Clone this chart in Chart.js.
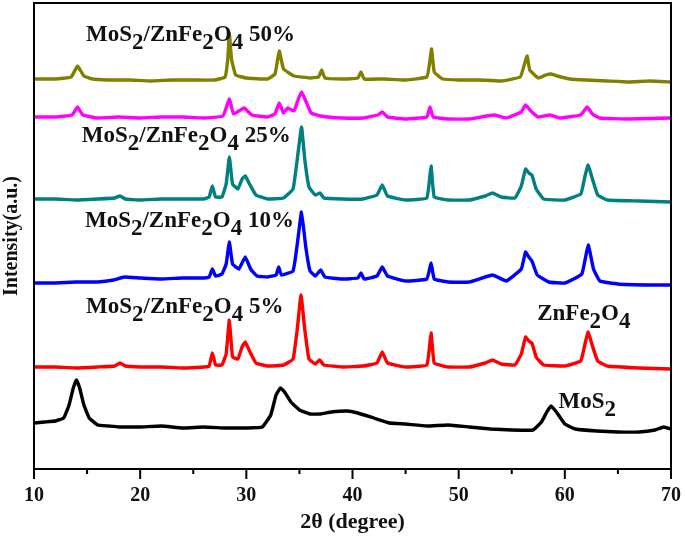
<!DOCTYPE html>
<html>
<head>
<meta charset="utf-8">
<script src="https://cdn.jsdelivr.net/npm/chart.js@4.4.0/dist/chart.umd.min.js"></script>
<style>
  html, body { margin: 0; padding: 0; background: #fff; }
  #wrap { width: 685px; height: 536px; }
</style>
</head>
<body>
<div id="wrap"><canvas id="xrdChart"></canvas></div>
<script>
// XRD patterns, [2theta, intensity (a.u., stacked)]
const mos2 = [
  [10, 46], [11, 47], [12, 48], [12.8, 51], [13.3, 64], [13.7, 81], [14.0, 89], [14.3, 81],
  [14.7, 64], [15.2, 51], [16, 44], [17, 43], [18, 42], [20, 42], [22, 43], [24, 41],
  [26, 42], [28, 41], [30, 41], [31.5, 42], [32.3, 54], [32.8, 74], [33.2, 81], [33.6, 77],
  [34.2, 67], [35, 59], [36, 55], [37, 55], [38, 57], [39.5, 58], [40.5, 56], [42, 51],
  [43.5, 46], [45, 45], [47, 43], [49, 44], [51, 42], [53, 40], [55, 39], [57, 39],
  [57.8, 47], [58.3, 57], [58.7, 63], [59.2, 57], [60, 45], [61, 40], [63, 38], [65, 37],
  [67, 37], [68.5, 39], [69.3, 42], [70, 40]
];
const zfo = [
  [10, 102], [12, 102], [14, 101], [16, 102], [17.6, 103], [18.1, 106], [18.6, 103], [20, 102],
  [22, 102], [24, 101], [26, 102], [26.5, 103], [26.8, 116], [27.1, 104], [27.7, 104], [28.1, 115],
  [28.4, 149], [28.7, 112], [29.2, 110], [29.6, 122], [29.9, 127], [30.3, 118], [30.9, 106], [32, 103],
  [33.5, 104], [34.4, 110], [34.8, 140], [35.15, 174], [35.5, 140], [35.9, 110], [36.5, 105], [36.9, 109],
  [37.3, 104], [39, 102], [41, 103], [42.3, 106], [42.8, 117], [43.3, 106], [45, 102], [47, 104],
  [47.4, 136], [47.7, 106], [49, 102], [51, 102], [52.5, 106], [53.2, 109], [54, 105], [55.3, 104],
  [55.9, 115], [56.3, 132], [56.6, 128], [56.9, 126], [57.3, 112], [58, 104], [60, 103], [61.5, 108],
  [61.9, 125], [62.2, 137], [62.6, 123], [63.1, 108], [64, 103], [67, 101], [70, 100]
];
const comp10 = [
  [10, 186], [12, 186], [14, 187], [16, 187], [17.5, 189], [18.5, 192], [20, 191], [22, 190],
  [24, 191], [26, 191], [26.5, 192], [26.8, 200], [27.1, 193], [27.7, 195], [28.1, 205], [28.4, 227],
  [28.7, 205], [29.3, 200], [29.9, 212], [30.4, 200], [31, 193], [32, 192], [32.8, 194], [33.05, 202],
  [33.3, 194], [34.4, 198], [34.8, 225], [35.2, 257], [35.6, 222], [36, 198], [36.5, 193], [37, 199],
  [37.4, 192], [39, 190], [40.5, 191], [40.8, 196], [41.1, 190], [42.3, 193], [42.8, 202], [43.3, 193],
  [45, 188], [47, 190], [47.4, 206], [47.7, 190], [49, 187], [51, 187], [53.2, 194], [54.5, 188],
  [55.9, 200], [56.3, 217], [56.6, 212], [56.9, 208], [57.4, 194], [58.5, 187], [60, 186], [61.6, 195],
  [62.2, 224], [62.7, 200], [63.3, 188], [65, 185], [68, 184], [70, 184]
];
const comp25 = [
  [10, 270], [12, 270], [14, 269], [16, 270], [17.6, 271], [18.1, 273], [18.6, 270], [20, 269],
  [22, 270], [24, 270], [26, 270], [26.5, 272], [26.8, 283], [27.1, 272], [27.7, 272], [28.1, 285],
  [28.4, 312], [28.7, 285], [29.2, 280], [29.6, 290], [29.9, 293], [30.3, 285], [30.9, 274], [32, 270],
  [33.5, 271], [34.4, 280], [34.8, 310], [35.2, 342], [35.5, 310], [35.9, 282], [36.5, 274], [36.95, 276],
  [37.3, 271], [39, 270], [41, 270], [42.3, 274], [42.8, 284], [43.3, 273], [45, 269], [47, 271],
  [47.4, 303], [47.7, 272], [49, 269], [51, 269], [52.5, 273], [53.2, 276], [54, 272], [55.3, 271],
  [55.9, 283], [56.3, 300], [56.6, 296], [56.9, 294], [57.3, 280], [58, 270], [60, 269], [61.5, 275],
  [61.9, 293], [62.2, 304], [62.6, 290], [63.1, 274], [64, 269], [67, 268], [70, 267]
];
const comp35 = [
  [10, 352], [12, 352], [13.6, 354], [14.1, 362], [14.6, 354], [16, 351], [18, 352], [20, 351],
  [22, 352], [24, 352], [26, 351], [27.8, 353], [28.4, 370], [28.8, 355], [29.8, 361], [30.5, 354],
  [32, 352], [32.7, 355], [33.1, 366], [33.5, 356], [33.9, 361], [34.5, 358], [34.9, 370], [35.2, 377],
  [35.6, 368], [36.1, 356], [37, 353], [39, 351], [41, 351], [42.4, 354], [42.8, 357], [43.3, 352],
  [45, 350], [47, 352], [47.3, 362], [47.6, 352], [49, 350], [51, 350], [53.3, 354], [54.5, 351],
  [55.9, 357], [56.3, 364], [56.8, 358], [57.5, 352], [58.6, 354], [59.5, 351], [61.5, 354], [62.1, 362],
  [62.6, 355], [63.3, 351], [66, 350], [70, 351]
];
const comp50 = [
  [10, 390], [12, 390], [13.5, 392], [14.1, 403], [14.7, 393], [15.5, 390], [17, 389], [19, 389],
  [21, 388], [23, 389], [25, 389], [27, 389], [28, 392], [28.25, 410], [28.4, 436], [28.6, 410],
  [29, 394], [30, 391], [32, 390], [32.7, 395], [33.1, 418], [33.5, 400], [34.5, 393], [36, 391],
  [36.8, 392], [37.1, 399], [37.4, 391], [39, 390], [40.5, 391], [40.8, 397], [41.1, 390], [43, 390],
  [45, 389], [47, 392], [47.25, 405], [47.45, 420], [47.7, 397], [48.5, 390], [50, 389], [52, 389],
  [54, 388], [55.8, 392], [56.2, 405], [56.45, 413], [56.7, 399], [57.5, 391], [58.2, 394], [58.7, 395],
  [59.3, 393], [60.5, 390], [62, 389], [64, 388], [66, 387], [68, 388], [70, 387]
];
const seriesColors = ['#000000', '#ff0000', '#0000ff', '#008080', '#ff00ff', '#808000'];
const xTicks = [10, 20, 30, 40, 50, 60, 70];

const serif = "'Times New Roman', 'Liberation Serif', serif";

// text labels, "_" marks a subscript digit
const labels = [
  { text: 'MoS_2/ZnFe_2O_4 50%', x: 14.9, y: 428 },
  { text: 'MoS_2/ZnFe_2O_4 25%', x: 14.5, y: 327 },
  { text: 'MoS_2/ZnFe_2O_4 10%', x: 14.8, y: 242 },
  { text: 'MoS_2/ZnFe_2O_4 5%', x: 14.9, y: 156 },
  { text: 'ZnFe_2O_4', x: 57.4, y: 149 },
  { text: 'MoS_2', x: 59.4, y: 61 }
];

function toPoints(arr) {
  return arr.map(p => ({ x: p[0], y: p[1] }));
}

const labelPlugin = {
  id: 'xrdLabels',
  afterDatasetsDraw(chart) {
    const ctx = chart.ctx;
    const xs = chart.scales.x, ys = chart.scales.y;
    ctx.save();
    ctx.fillStyle = '#111';
    ctx.font = 'bold 23px ' + serif;
    ctx.textBaseline = 'alphabetic';
    labels.forEach(function(lb) {
      let px = xs.getPixelForValue(lb.x);
      const py = ys.getPixelForValue(lb.y);
      const parts = lb.text.split(/(_\d)/);
      parts.forEach(function(part) {
        if (!part) return;
        if (part[0] === '_') {
          ctx.fillText(part[1], px, py + 8);
          px += ctx.measureText(part[1]).width;
        } else {
          ctx.fillText(part, px, py);
          px += ctx.measureText(part).width;
        }
      });
    });
    ctx.restore();
  }
};

const framePlugin = {
  id: 'frame',
  afterDraw(chart) {
    const ctx = chart.ctx;
    const a = chart.chartArea;
    const xs = chart.scales.x;
    ctx.save();
    ctx.strokeStyle = '#000';
    ctx.lineWidth = 2;
    ctx.strokeRect(a.left, a.top, a.right - a.left, a.bottom - a.top);
    // major + minor ticks on the bottom axis
    ctx.beginPath();
    for (let v = 10; v <= 70; v += 5) {
      const px = xs.getPixelForValue(v);
      const len = (v % 10 === 0) ? 10 : 5;
      ctx.moveTo(px, a.bottom);
      ctx.lineTo(px, a.bottom + len);
    }
    ctx.stroke();
    ctx.restore();
  }
};

const ctx = document.getElementById('xrdChart');
const dataSets = [mos2, zfo, comp10, comp25, comp35, comp50];

new Chart(ctx, {
  type: 'line',
  data: {
    datasets: dataSets.map((d, i) => ({
      data: toPoints(d),
      borderColor: seriesColors[i],
      borderWidth: 3.4,
      pointRadius: 0,
      tension: 0.1,
      fill: false
    }))
  },
  options: {
    responsive: true,
    maintainAspectRatio: false,
    animation: false,
    layout: { padding: { top: 3, right: 14, left: 0, bottom: 0 } },
    plugins: {
      legend: { display: false },
      tooltip: { enabled: false }
    },
    scales: {
      x: {
        type: 'linear',
        min: 10,
        max: 70,
        afterBuildTicks: function(scale) {
          scale.ticks = xTicks.map(v => ({ value: v }));
        },
        afterFit: function(scale) {
          scale.height = 67;
          scale.paddingLeft = 0;
          scale.paddingRight = 0;
        },
        grid: { display: false, drawTicks: false },
        border: { display: false },
        ticks: {
          padding: 15,
          color: '#111',
          maxRotation: 0,
          font: { family: serif, size: 20, weight: 'bold' }
        },
        title: {
          display: true,
          text: '2θ (degree)',
          color: '#111',
          padding: 0,
          font: { family: serif, size: 22, weight: 'bold' }
        }
      },
      y: {
        min: 0,
        max: 466,
        afterFit: function(scale) { scale.width = 34; },
        grid: { display: false, drawTicks: false },
        border: { display: false },
        ticks: { display: false },
        title: {
          display: true,
          text: 'Intensity(a.u.)',
          color: '#111',
          padding: 0,
          font: { family: serif, size: 20, weight: 'bold' }
        }
      }
    }
  },
  plugins: [labelPlugin, framePlugin]
});
</script>
</body>
</html>
